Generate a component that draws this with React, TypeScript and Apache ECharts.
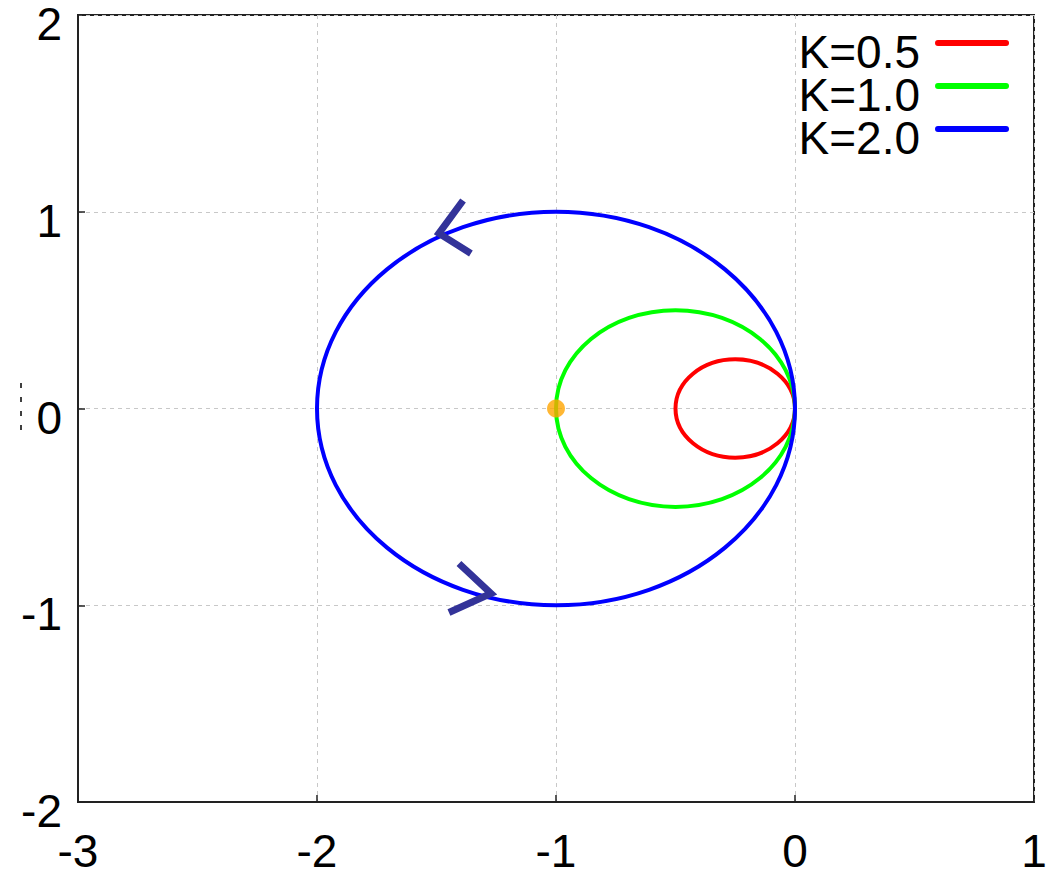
import React, { useEffect, useRef } from "react";
import * as echarts from "echarts";

// Nyquist circles: [centerX, centerY, radius]
const seriesNames = ["K=0.5", "K=1.0", "K=2.0"];
const seriesColors = ["#ff0000", "#00ff00", "#0000ff"];
const circleRed = [[-0.25, 0, 0.25]];
const circleGreen = [[-0.5, 0, 0.5]];
const circleBlue = [[-1, 0, 1]];
const circles = [circleRed, circleGreen, circleBlue];

// direction arrows (arm, tip, arm)
const arrowUpper = [[-1.389, 1.057], [-1.49, 0.89], [-1.356, 0.788]];
const arrowLower = [[-1.406, -0.788], [-1.272, -0.94], [-1.448, -1.037]];

// critical point
const criticalPoint = [[-1, 0]];

const xTicks = { min: -3, max: 1, interval: 1 };
const yTicks = { min: -2, max: 2, interval: 1 };

const FONT = "'Liberation Sans', Arial, sans-serif";
// legend line sits above the item's centre
const LEGEND_ICON = "path://M3,0h68a3,3 0 0 1 0,6h-68a3,3 0 0 1 0,-6zM0,24h0.01v0.01h-0.01z";

export default function App() {
  const ref = useRef<HTMLDivElement>(null);
  useEffect(() => {
    if (!ref.current) return;
    const chart = echarts.init(ref.current, undefined, { renderer: "svg" });
    const circleSeries = circles.map((data, i) => ({
      type: "custom",
      name: seriesNames[i],
      data,
      encode: { x: 0, y: 1 },
      itemStyle: { color: seriesColors[i] },
      z: 2 + i,
      renderItem: (params: any, api: any) => {
        const c = api.coord([api.value(0), api.value(1)]);
        const s = api.size([api.value(2), api.value(2)]);
        return {
          type: "ellipse",
          shape: { cx: c[0], cy: c[1], rx: s[0], ry: s[1] },
          style: { fill: "none", stroke: seriesColors[i], lineWidth: 4 },
        };
      },
    }));
    const arrowSeries = [arrowUpper, arrowLower].map((data) => ({
      type: "line",
      data,
      symbol: "none",
      lineStyle: { color: "#333399", width: 7, cap: "butt", join: "miter" },
      z: 10,
    }));
    chart.setOption({
      animation: false,
      backgroundColor: "#ffffff",
      textStyle: { fontFamily: FONT },
      grid: {
        left: 78,
        right: 20,
        top: 15,
        bottom: 73,
        show: true,
        borderColor: "#222",
        borderWidth: 2,
        containLabel: false,
        outerBoundsMode: "none",
      },
      legend: {
        orient: "vertical",
        right: 40,
        top: 24,
        align: "right",
        itemGap: -3,
        itemWidth: 74,
        itemHeight: 24,
        selectedMode: false,
        data: seriesNames.map((n, i) => ({
          name: n,
          icon: LEGEND_ICON,
          itemStyle: { color: seriesColors[i], borderWidth: 0 },
        })),
        formatter: "{t|{name}}",
        textStyle: {
          fontFamily: FONT,
          fontSize: 46,
          color: "#000",
          rich: {
            t: {
              fontFamily: FONT,
              fontSize: 46,
              color: "#000",
              lineHeight: 42,
              padding: [0, 10, 0, 0],
            },
          },
        },
      },
      xAxis: {
        type: "value",
        ...xTicks,
        axisLine: { show: true, onZero: false, lineStyle: { color: "#222", width: 2 } },
        axisTick: { show: true, inside: true, length: 7, lineStyle: { color: "#222", width: 1.5 } },
        axisLabel: {
          fontFamily: FONT,
          fontSize: 46,
          color: "#000",
          margin: 31,
          lineHeight: 36,
        },
        splitLine: { show: true, lineStyle: { color: "#c8c8c8", type: [4, 4], width: 1 } },
      },
      yAxis: {
        type: "value",
        ...yTicks,
        axisLine: { show: true, onZero: false, lineStyle: { color: "#222", width: 2 } },
        axisTick: { show: true, inside: true, length: 7, lineStyle: { color: "#222", width: 1.5 } },
        axisLabel: {
          fontFamily: FONT,
          fontSize: 46,
          color: "#000",
          margin: 16,
          verticalAlign: "top",
          lineHeight: 18,
        },
        splitLine: { show: true, lineStyle: { color: "#c8c8c8", type: [4, 4], width: 1 } },
      },
      graphic: [
        {
          type: "line",
          shape: { x1: 21, y1: 383, x2: 21, y2: 431 },
          style: { stroke: "#000", lineWidth: 1.5, lineDash: [5, 9] },
        },
      ],
      series: [
        ...circleSeries,
        ...arrowSeries,
        {
          type: "scatter",
          data: criticalPoint,
          symbol: "circle",
          symbolSize: 18,
          itemStyle: { color: "#ffa500" },
          z: 12,
        },
      ],
    });
    return () => chart.dispose();
  }, []);
  return (
    <div
      ref={ref}
      style={{ position: "absolute", left: 0, top: 0, width: 1054, height: 875 }}
    />
  );
}
